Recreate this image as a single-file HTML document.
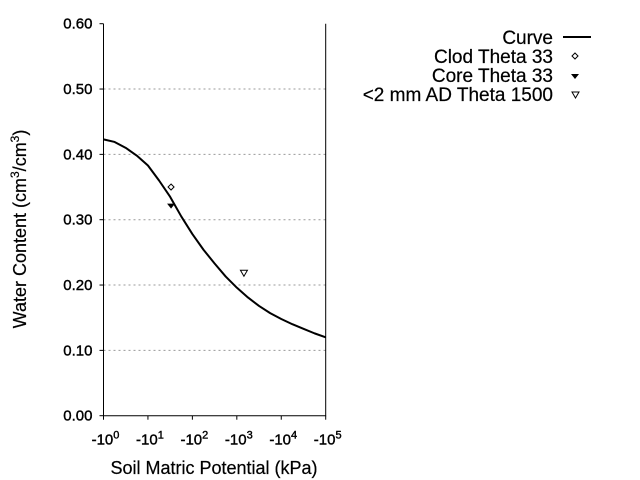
<!DOCTYPE html>
<html><head><meta charset="utf-8"><style>
body{margin:0;background:#fff;}
svg{display:block;font-family:"Liberation Sans",sans-serif;}
</style></head><body>
<svg id="chart" width="640" height="480">
<g id="grid"></g>
<g id="axes"></g>
<g id="series"></g>
<text x="214" y="474" text-anchor="middle" font-size="18" stroke="#000" stroke-width="0.2">Soil Matric Potential (kPa)</text>
<text transform="translate(26,229) rotate(-90)" text-anchor="middle" font-size="18" stroke="#000" stroke-width="0.2">Water Content (cm<tspan baseline-shift="super" font-size="12">3</tspan>/cm<tspan baseline-shift="super" font-size="12">3</tspan>)</text>
<g font-size="19" text-anchor="end" stroke-width="0.2">
<g><text x="553" y="44" stroke="#000">Curve</text><line x1="563" y1="37" x2="591" y2="37" stroke="#000" stroke-width="2"/></g>
<g><text x="553" y="63" stroke="#000">Clod Theta 33</text><path d="M575,53 l3,3 l-3,3 l-3,-3z" fill="none" stroke="#000" stroke-width="1"/></g>
<g><text x="553" y="82" stroke="#000">Core Theta 33</text><path d="M571,74 l8,0 l-4,5z" fill="#000"/></g>
<g><text x="553" y="101" stroke="#000">&lt;2 mm AD Theta 1500</text><path d="M572,92 l7,0 l-3.5,6z" fill="none" stroke="#000" stroke-width="1"/></g>
</g>
</svg>
<script>
const yTicks=[0,0.1,0.2,0.3,0.4,0.5,0.6];
const yTickLabels=["0.00","0.10","0.20","0.30","0.40","0.50","0.60"];
const xTicks=[0,1,2,3,4,5];
const curveLogH=[0,0.25,0.5,0.75,1,1.25,1.5,1.75,2,2.25,2.5,2.75,3,3.25,3.5,3.75,4,4.25,4.5,4.75,5];
const curveTheta=[0.423,0.419,0.41,0.398,0.383,0.36,0.335,0.305,0.278,0.254,0.233,0.213,0.196,0.181,0.168,0.157,0.148,0.140,0.133,0.126,0.120];
const clodLogH=[1.52];const clodTheta=[0.35];
const coreLogH=[1.52];const coreTheta=[0.32];
const adLogH=[3.16];const adTheta=[0.218];
const L=103.5,R=325.7,T=23.7,B=415.7;
const X=v=>L+(v-0)/5*(R-L);
const Y=v=>B-v/0.6*(B-T);
const NS="http://www.w3.org/2000/svg";
function mk(parent,tag,attrs){const e=document.createElementNS(NS,tag);for(const k in attrs)e.setAttribute(k,attrs[k]);document.getElementById(parent).appendChild(e);return e;}
yTicks.forEach((t,i)=>{
 if(t>0&&t<0.6){const g=mk('grid','line',{x1:L,x2:R,y1:Y(t),y2:Y(t),stroke:'#999','stroke-dasharray':'2,3'});
 
 }
 const tk=mk('axes','line',{x1:L-4,x2:L,y1:Y(t),y2:Y(t),stroke:'#000'});
 
 
 const tx=mk('axes','text',{x:L-11,y:Y(t)+5,'text-anchor':'end','font-size':'15',stroke:'#000','stroke-width':'0.4'});
 tx.textContent=yTickLabels[i];
 
 
});
xTicks.forEach(t=>{
 const tk=mk('axes','line',{x1:X(t),x2:X(t),y1:B,y2:B+4,stroke:'#000'});
 
 
 const tx=mk('axes','text',{x:X(t)+2,y:B+29,'text-anchor':'middle','font-size':'15',stroke:'#000','stroke-width':'0.4'});
 tx.innerHTML='-10<tspan baseline-shift="super" font-size="11">'+t+'</tspan>';
 
 
});
const ax=mk('axes','path',{d:`M${L},${T}V${B}H${R}V${T}`,fill:'none',stroke:'#000'});


const cp=mk('series','polyline',{points:curveLogH.map((v,i)=>X(v)+','+Y(curveTheta[i])).join(' '),fill:'none',stroke:'#000','stroke-width':'2','stroke-linejoin':'round'});


clodLogH.forEach((v,i)=>{const x=X(v),y=Y(clodTheta[i]);
 const p=mk('series','path',{d:`M${x},${y-3}l3,3l-3,3l-3,-3z`,fill:'none',stroke:'#000'});
 
 });
coreLogH.forEach((v,i)=>{const x=X(v),y=Y(coreTheta[i]);
 const p=mk('series','path',{d:`M${x-4},${y-3}l8,0l-4,5z`,fill:'#000'});
 
 });
adLogH.forEach((v,i)=>{const x=X(v),y=Y(adTheta[i]);
 const p=mk('series','path',{d:`M${x-3.5},${y-3}l7,0l-3.5,6z`,fill:'none',stroke:'#000'});
 
 });
</script>
</body></html>
